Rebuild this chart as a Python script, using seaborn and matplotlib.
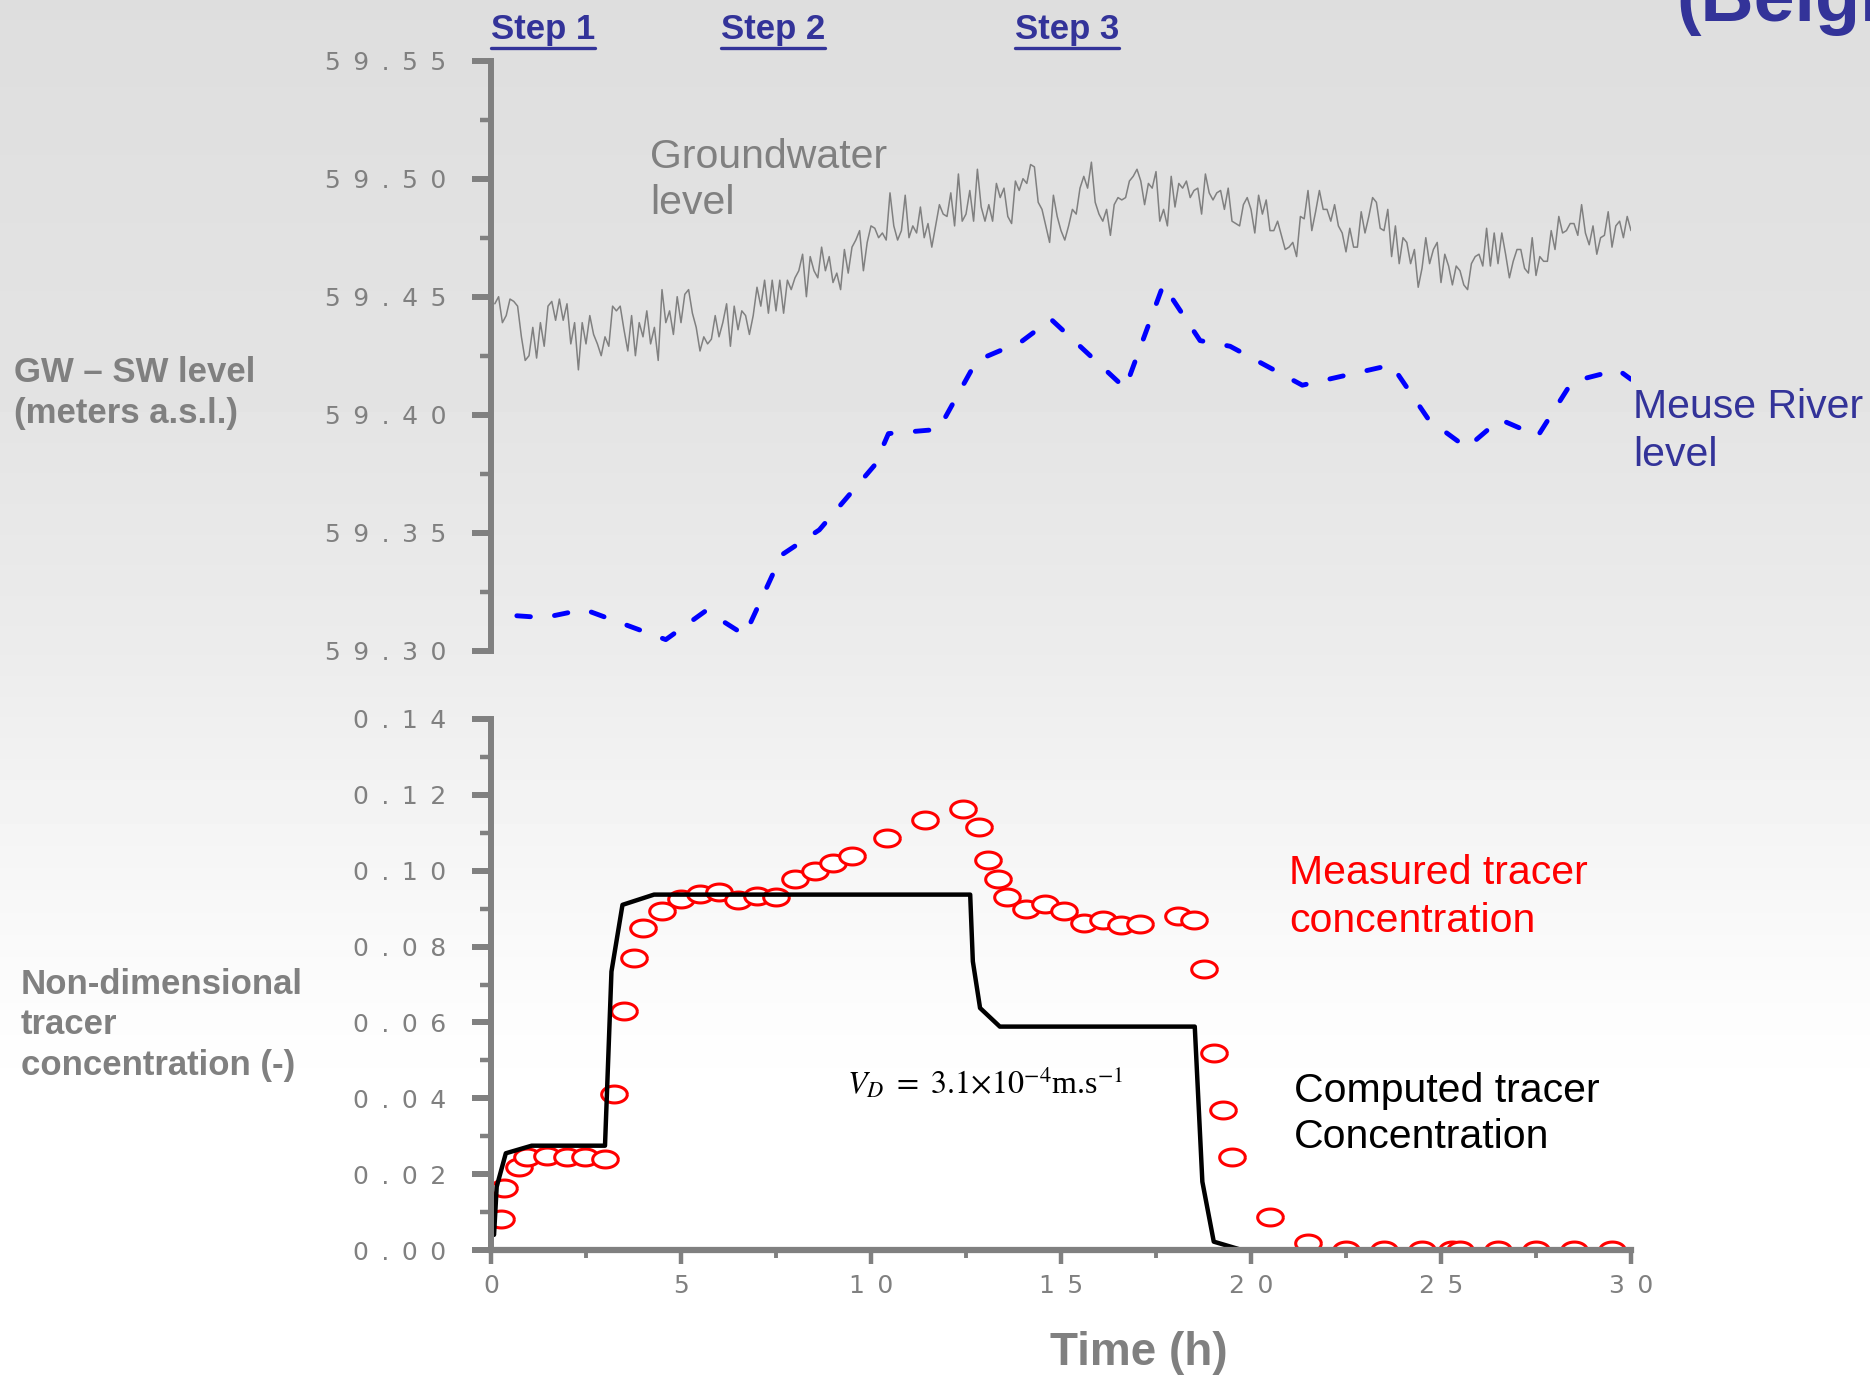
import numpy as np
import matplotlib.pyplot as plt
import seaborn as sns
from matplotlib.path import Path
from matplotlib.lines import Line2D
from matplotlib.ticker import FixedLocator, FuncFormatter

# ---- data ----
# groundwater level, logged every 6 min (0.1 h), metres a.s.l.
gw_step_h = 0.1
gw_level = [
    59.447, 59.450, 59.439, 59.442, 59.449, 59.448, 59.446, 59.433, 59.423, 59.425,
    59.437, 59.424, 59.439, 59.429, 59.446, 59.448, 59.440, 59.449, 59.440, 59.447,
    59.430, 59.439, 59.419, 59.439, 59.430, 59.442, 59.434, 59.430, 59.425, 59.433,
    59.429, 59.446, 59.444, 59.446, 59.436, 59.427, 59.442, 59.425, 59.439, 59.433,
    59.444, 59.430, 59.437, 59.423, 59.453, 59.439, 59.444, 59.434, 59.450, 59.439,
    59.451, 59.453, 59.443, 59.437, 59.427, 59.433, 59.430, 59.432, 59.442, 59.433,
    59.439, 59.447, 59.429, 59.446, 59.436, 59.444, 59.442, 59.434, 59.442, 59.454,
    59.446, 59.457, 59.443, 59.457, 59.444, 59.457, 59.443, 59.457, 59.453, 59.458,
    59.461, 59.468, 59.450, 59.467, 59.461, 59.458, 59.471, 59.461, 59.467, 59.456,
    59.460, 59.453, 59.470, 59.460, 59.471, 59.474, 59.478, 59.461, 59.473, 59.480,
    59.479, 59.475, 59.477, 59.474, 59.494, 59.480, 59.474, 59.478, 59.493, 59.475,
    59.480, 59.477, 59.488, 59.475, 59.481, 59.471, 59.480, 59.489, 59.485, 59.484,
    59.494, 59.480, 59.502, 59.482, 59.485, 59.495, 59.482, 59.504, 59.488, 59.482,
    59.489, 59.482, 59.498, 59.492, 59.496, 59.484, 59.481, 59.499, 59.495, 59.500,
    59.498, 59.506, 59.505, 59.490, 59.487, 59.480, 59.473, 59.493, 59.484, 59.478,
    59.474, 59.480, 59.487, 59.485, 59.496, 59.501, 59.496, 59.507, 59.490, 59.485,
    59.482, 59.487, 59.476, 59.489, 59.492, 59.491, 59.492, 59.499, 59.501, 59.504,
    59.499, 59.489, 59.498, 59.496, 59.503, 59.482, 59.487, 59.480, 59.501, 59.488,
    59.498, 59.496, 59.499, 59.492, 59.495, 59.496, 59.485, 59.502, 59.494, 59.491,
    59.494, 59.495, 59.487, 59.496, 59.482, 59.481, 59.480, 59.489, 59.492, 59.487,
    59.477, 59.493, 59.485, 59.491, 59.478, 59.478, 59.482, 59.476, 59.470, 59.471,
    59.473, 59.467, 59.484, 59.483, 59.495, 59.478, 59.486, 59.495, 59.487, 59.487,
    59.482, 59.489, 59.480, 59.477, 59.469, 59.479, 59.471, 59.471, 59.486, 59.477,
    59.484, 59.492, 59.490, 59.479, 59.478, 59.487, 59.467, 59.480, 59.464, 59.475,
    59.473, 59.464, 59.470, 59.454, 59.462, 59.475, 59.464, 59.470, 59.473, 59.456,
    59.468, 59.463, 59.455, 59.463, 59.461, 59.455, 59.453, 59.464, 59.467, 59.468,
    59.463, 59.479, 59.463, 59.477, 59.464, 59.477, 59.468, 59.458, 59.465, 59.470,
    59.470, 59.462, 59.460, 59.475, 59.459, 59.467, 59.465, 59.465, 59.478, 59.470,
    59.484, 59.477, 59.478, 59.481, 59.481, 59.476, 59.489, 59.477, 59.472, 59.480,
    59.468, 59.475, 59.476, 59.486, 59.471, 59.480, 59.482, 59.475, 59.484, 59.478,
]
gw_time = np.round(gw_step_h * np.arange(1, len(gw_level) + 1), 1)

# Meuse river level (vertices of the dashed line)
river_time = [0.68, 1.40, 2.45, 4.60, 5.66, 6.68, 7.65, 8.64, 10.10, 10.46, 11.78,
              12.78, 13.96, 14.74, 16.69, 17.69, 18.66, 19.45, 21.35, 23.70, 24.68,
              25.68, 26.55, 27.55, 28.45, 29.66, 30.0]
river_level = [59.3148, 59.3140, 59.3175, 59.3047, 59.3170, 59.3066, 59.3406, 59.3512,
               59.3787, 59.3920, 59.3938, 59.4229, 59.4310, 59.4404, 59.4112, 59.4550,
               59.4314, 59.4290, 59.4125, 59.4211, 59.3978, 59.3860, 59.3980, 59.3910,
               59.4140, 59.4190, 59.4150]

# measured tracer concentration (-)
meas_time = [0.27, 0.34, 0.73, 0.96, 1.48, 2.00, 2.48, 3.00, 3.23, 3.51, 3.75, 4.01,
             4.51, 5.00, 5.50, 6.01, 6.50, 6.99, 7.50, 8.00, 8.52, 9.01, 9.51, 10.42,
             11.42, 12.42, 12.83, 13.08, 13.34, 13.58, 14.07, 14.58, 15.08, 15.60,
             16.10, 16.57, 17.09, 18.08, 18.49, 18.75, 19.02, 19.27, 19.50, 20.50,
             21.50, 22.51, 23.50, 24.51, 25.30, 25.50, 26.49, 27.51, 28.50, 29.50]
meas_conc = [0.0081, 0.0163, 0.0220, 0.0246, 0.0249, 0.0244, 0.0246, 0.0240, 0.0412,
             0.0629, 0.0770, 0.0848, 0.0895, 0.0926, 0.0938, 0.0944, 0.0922, 0.0934,
             0.0931, 0.0978, 0.0998, 0.1020, 0.1040, 0.1086, 0.1135, 0.1164, 0.1115,
             0.1029, 0.0978, 0.0930, 0.0899, 0.0912, 0.0893, 0.0862, 0.0871, 0.0858,
             0.0860, 0.0881, 0.0871, 0.0741, 0.0519, 0.0368, 0.0245, 0.0086, 0.0018,
             0.0, 0.0, 0.0, 0.0, 0.0, 0.0, 0.0, 0.0, 0.0]

# computed tracer concentration (-)
comp_time = [0.08, 0.15, 0.39, 1.07, 3.00, 3.17, 3.46, 4.29, 12.61, 12.68, 12.87,
             13.39, 18.52, 18.72, 19.02, 19.76]
comp_conc = [0.004, 0.0167, 0.0255, 0.0275, 0.0275, 0.0734, 0.0910, 0.0937, 0.0937,
             0.0761, 0.0638, 0.0589, 0.0589, 0.0180, 0.0022, 0.0]

level_ticks = [59.30, 59.35, 59.40, 59.45, 59.50, 59.55]
conc_ticks = [0.00, 0.02, 0.04, 0.06, 0.08, 0.10, 0.12, 0.14]
time_ticks = [0, 5, 10, 15, 20, 25, 30]

# ---- style ----
W, H = 1870, 1378
GREY = '#808080'
NAVY = '#333399'

sns.set_theme(style='white')
plt.rcParams['font.family'] = ['Liberation Sans', 'DejaVu Sans']
plt.rcParams['mathtext.fontset'] = 'stix'


def fx(px):
    return px / W


def fy(py):
    return 1 - py / H


fig = plt.figure(figsize=(W / 100, H / 100), dpi=100)

# light grey -> white background
bg = fig.add_axes([0, 0, 1, 1], zorder=-10)
rows = np.arange(H)
shade = np.interp(rows, [0, 400, 650, 800, 1000, 1100, H], [0.87, 0.893, 0.925, 0.953, 0.988, 1.0, 1.0])
bg.imshow(shade[:, None], aspect='auto', cmap='gray', vmin=0, vmax=1, extent=[0, 1, 0, 1])
bg.set_axis_off()

x0, x30 = 491, 1631
ax_top = fig.add_axes([fx(x0), fy(650.7), (x30 - x0) / W, (650.7 - 60.7) / H])
ax_bot = fig.add_axes([fx(x0), fy(1250), (x30 - x0) / W, (1250 - 719) / H])

for ax in (ax_top, ax_bot):
    ax.set_facecolor('none')
    for s in ax.spines.values():
        s.set_visible(False)
    ax.spines['left'].set_visible(True)
    ax.spines['left'].set_color(GREY)
    ax.spines['left'].set_linewidth(4.3)
    ax.set_xlim(0, 30)

spaced = lambda s: '\u2002'.join(s)

# top panel: levels
sns.lineplot(x=gw_time, y=gw_level, ax=ax_top, color=GREY, lw=1.1)
sns.lineplot(x=river_time, y=river_level, ax=ax_top, color='#0000ff', lw=3.5)
river_line = ax_top.lines[-1]
river_line.set_dashes([2.8, 5.0])
river_line.set_dash_capstyle('round')
ax_top.set_ylim(59.30, 59.55)
ax_top.set_xticks([])
ax_top.yaxis.set_major_locator(FixedLocator(level_ticks))
ax_top.yaxis.set_minor_locator(FixedLocator([v + 0.025 for v in level_ticks[:-1]]))
ax_top.yaxis.set_major_formatter(FuncFormatter(lambda v, p: spaced(f'{v:.2f}')))

# bottom panel: tracer
ring = np.linspace(0, 2 * np.pi, 60)
sns.scatterplot(x=meas_time, y=meas_conc, ax=ax_bot, s=340, linewidth=2.2,
                marker=Path(np.column_stack([np.cos(ring), 0.66 * np.sin(ring)])))
circles = ax_bot.collections[-1]
circles.set_facecolor('white')
circles.set_edgecolor('#ff0000')
circles.set_zorder(1)
sns.lineplot(x=comp_time, y=comp_conc, ax=ax_bot, color='black', lw=3.2, zorder=2)
ax_bot.spines['bottom'].set_visible(True)
ax_bot.spines['bottom'].set_color(GREY)
ax_bot.spines['bottom'].set_linewidth(4.5)
ax_bot.set_ylim(0, 0.14)
ax_bot.yaxis.set_major_locator(FixedLocator(conc_ticks))
ax_bot.yaxis.set_minor_locator(FixedLocator([v + 0.01 for v in conc_ticks[:-1]]))
ax_bot.yaxis.set_major_formatter(FuncFormatter(lambda v, p: spaced(f'{v:.2f}')))
ax_bot.xaxis.set_major_locator(FixedLocator(time_ticks))
ax_bot.xaxis.set_minor_locator(FixedLocator([t + 2.5 for t in time_ticks[:-1]]))
ax_bot.xaxis.set_major_formatter(FuncFormatter(lambda v, p: spaced(str(int(v)))))

for ax in (ax_top, ax_bot):
    ax.set_xlabel('')
    ax.set_ylabel('')
    ax.tick_params(axis='y', which='major', direction='out', length=14, width=4.3,
                   color=GREY, labelcolor=GREY, labelsize=18, pad=18, left=True)
    ax.tick_params(axis='y', which='minor', direction='out', length=8, width=3.2,
                   color=GREY, left=True)
    for lab in ax.get_yticklabels():
        lab.set_family('DejaVu Sans')
ax_bot.tick_params(axis='x', which='major', direction='out', length=10, width=3.2,
                   color=GREY, labelcolor=GREY, labelsize=18, pad=7, bottom=True)
ax_bot.tick_params(axis='x', which='minor', direction='out', length=6, width=2.8,
                   color=GREY, bottom=True)
for lab in ax_bot.get_xticklabels():
    lab.set_family('DejaVu Sans')

# ---- texts ----
steps = []
for label, left in [('Step 1', 491), ('Step 2', 721), ('Step 3', 1015)]:
    steps.append(fig.text(fx(left), fy(39), label, color=NAVY, fontsize=25,
                          fontweight='bold', va='baseline', ha='left'))
fig.text(fx(1676), fy(21), '(Belgium)', color=NAVY, fontsize=53, fontweight='bold',
         va='baseline', ha='left')

fig.text(fx(14), fy(393), 'GW \u2013 SW level\n(meters a.s.l.)', color=GREY, fontsize=25,
         fontweight='bold', va='center', ha='left', linespacing=1.3)
fig.text(fx(21), fy(1025), 'Non-dimensional\ntracer\nconcentration (-)', color=GREY,
         fontsize=25, fontweight='bold', va='center', ha='left', linespacing=1.3)
fig.text(fx(650), fy(180), 'Groundwater\nlevel', color=GREY, fontsize=29.5,
         va='center', ha='left', linespacing=1.3)
fig.text(fx(1633), fy(431), 'Meuse River\nlevel', color=NAVY, fontsize=29.5,
         va='center', ha='left', linespacing=1.3)
fig.text(fx(1289), fy(897), 'Measured tracer\nconcentration', color='#ff0000',
         fontsize=29.5, va='center', ha='left', linespacing=1.3)
fig.text(fx(1294), fy(1114), 'Computed tracer\nConcentration', color='black',
         fontsize=29.5, va='center', ha='left', linespacing=1.3)
fig.text(fx(847), fy(1083), r'$V_D\ =\ 3.1{\times}10^{-4}$m.s$^{-1}$',
         color='black', fontsize=23, va='center', ha='left',
         family=['Liberation Serif', 'DejaVu Serif'])
fig.text(fx(1139), fy(1353), 'Time (h)', color=GREY, fontsize=33, fontweight='bold',
         va='center', ha='center')

# underline the step labels
fig.canvas.draw()
inv = fig.transFigure.inverted()
for t in steps:
    bb = t.get_window_extent()
    (ax0, ay), (ax1, _) = inv.transform([[bb.x0, bb.y0 - 2], [bb.x1, bb.y0 - 2]])
    fig.add_artist(Line2D([ax0, ax1], [ay, ay], color=NAVY, lw=2.4,
                          transform=fig.transFigure))

fig.savefig('out.png', dpi=100)
